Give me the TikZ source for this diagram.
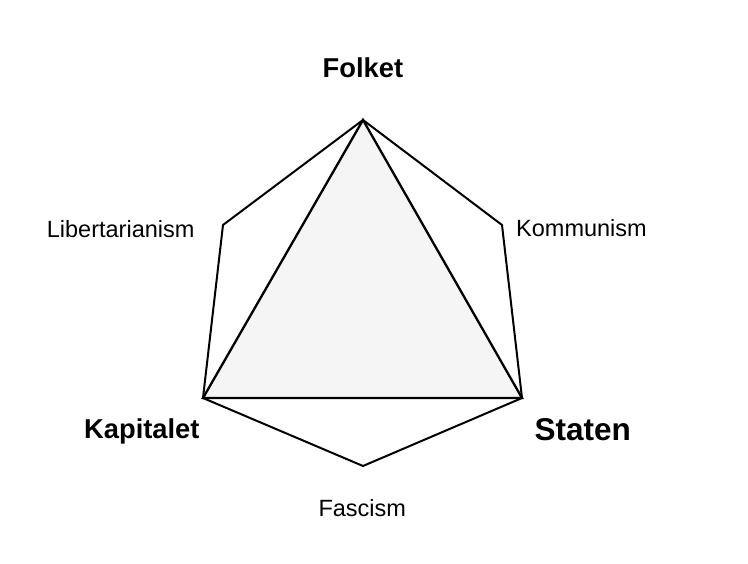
\documentclass[tikz,border=0pt]{standalone}
\usepackage{fontspec}
\setmainfont{Liberation Sans}
\definecolor{trifill}{HTML}{F5F5F5}
\tikzset{
  edge/.style={draw=black, line width=2pt, line join=miter},
  tri/.style={draw=black, fill=trifill, line width=2.3pt, line join=miter},
  lab/.style={inner sep=0pt, anchor=base west, text=black},
  small/.style={lab, font=\fontsize{23.5}{28}\selectfont},
  big/.style={lab, font=\fontsize{27.3}{32}\selectfont\bfseries},
  huge/.style={lab, font=\fontsize{31.5}{36}\selectfont\bfseries}
}
\begin{document}
\begin{tikzpicture}[x=1pt,y=-1pt]
\useasboundingbox (0,0) rectangle (748,564);
\coordinate (T) at (363,120);
\coordinate (UL) at (223,225);
\coordinate (LL) at (203,398);
\coordinate (B) at (363,466);
\coordinate (LR) at (522,398);
\coordinate (UR) at (502,225);
\draw[edge] (T) -- (UL) -- (LL) -- (B) -- (LR) -- (UR) -- cycle;
\draw[tri] (T) -- (LL) -- (LR) -- cycle;
\node[big] (folket) at (322.5,77.3) {Folket};
\node[big] (kapitalet) at (84,438.3) {Kapitalet};
\node[huge] (staten) at (534.3,440.7) {Staten};
\node[small] (lib) at (46.7,237.3) {Libertarianism};
\node[small] (komm) at (516,236.7) {Kommunism};
\node[small] (fasc) at (318.3,516) {Fascism};
\end{tikzpicture}
\end{document}
